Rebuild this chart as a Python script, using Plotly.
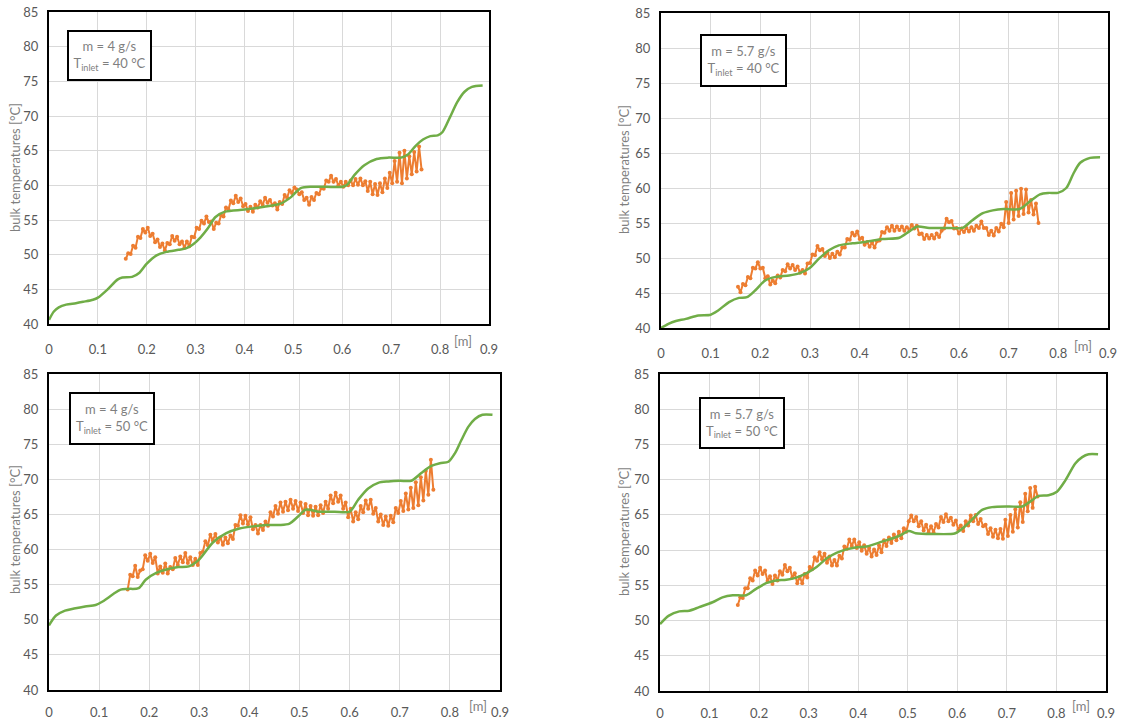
import plotly.graph_objects as go

# ---------------- data ----------------
X_TICKS = [0, 0.1, 0.2, 0.3, 0.4, 0.5, 0.6, 0.7, 0.8, 0.9]
X_TICK_LABELS = ["0", "0.1", "0.2", "0.3", "0.4", "0.5", "0.6", "0.7", "0.8", "0.9"]
Y_TICKS = [40, 45, 50, 55, 60, 65, 70, 75, 80, 85]
Y_TICK_LABELS = ["40", "45", "50", "55", "60", "65", "70", "75", "80", "85"]

panel_labels = [
    "m = 4 g/s<br>T<sub>inlet</sub> = 40 °C",
    "m = 5.7 g/s<br>T<sub>inlet</sub> = 40 °C",
    "m = 4 g/s<br>T<sub>inlet</sub> = 50 °C",
    "m = 5.7 g/s<br>T<sub>inlet</sub> = 50 °C",
]

# simulated bulk temperature (green)
sim1_x = [0, 0.01, 0.02, 0.035, 0.055, 0.07, 0.09, 0.10, 0.12, 0.14, 0.15, 0.17, 0.185, 0.20, 0.22, 0.24,
          0.265, 0.28, 0.295, 0.31, 0.325, 0.34, 0.36, 0.40, 0.44, 0.475, 0.495, 0.515, 0.54, 0.60, 0.61,
          0.625, 0.645, 0.67, 0.695, 0.72, 0.735, 0.75, 0.765, 0.78, 0.795, 0.805, 0.82, 0.835, 0.85, 0.865, 0.887]
sim1_y = [40.6, 41.8, 42.4, 42.8, 43.0, 43.2, 43.5, 43.8, 45.0, 46.4, 46.7, 46.8, 47.4, 48.7, 49.9, 50.4,
          50.7, 50.9, 51.5, 52.5, 53.8, 55.4, 56.2, 56.5, 56.9, 57.4, 58.3, 59.6, 59.8, 59.8, 60.1,
          61.5, 62.9, 63.8, 64.0, 64.0, 64.5, 65.7, 66.6, 67.1, 67.2, 67.7, 69.8, 72.0, 73.5, 74.2, 74.4]

sim2_x = [0, 0.015, 0.03, 0.05, 0.075, 0.1, 0.115, 0.137, 0.157, 0.173, 0.19, 0.21, 0.231, 0.258, 0.278,
          0.298, 0.318, 0.338, 0.358, 0.385, 0.412, 0.446, 0.48, 0.5, 0.516, 0.54, 0.58, 0.607, 0.627,
          0.648, 0.668, 0.69, 0.722, 0.743, 0.763, 0.78, 0.799, 0.816, 0.83, 0.844, 0.864, 0.884]
sim2_y = [40.0, 40.6, 41.0, 41.3, 41.8, 41.9, 42.5, 43.7, 44.3, 44.4, 45.4, 46.8, 47.3, 47.5, 47.8,
          48.5, 49.9, 51.1, 51.8, 52.1, 52.3, 52.7, 52.9, 53.8, 54.5, 54.3, 54.3, 54.3, 55.4,
          56.4, 56.8, 57.0, 57.0, 58.1, 59.1, 59.3, 59.3, 60.0, 62.0, 63.6, 64.3, 64.4]

sim3_x = [0, 0.014, 0.032, 0.05, 0.072, 0.093, 0.107, 0.129, 0.143, 0.157, 0.179, 0.193, 0.215, 0.236,
          0.258, 0.279, 0.3, 0.327, 0.353, 0.38, 0.407, 0.433, 0.46, 0.48, 0.497, 0.513, 0.537, 0.57,
          0.6, 0.617, 0.637, 0.657, 0.677, 0.7, 0.723, 0.743, 0.763, 0.78, 0.797, 0.81, 0.823, 0.837,
          0.85, 0.865, 0.885]
sim3_y = [49.2, 50.6, 51.3, 51.6, 51.9, 52.1, 52.6, 53.7, 54.3, 54.4, 54.5, 55.7, 56.7, 57.2,
          57.5, 57.6, 58.6, 61.0, 62.3, 63.0, 63.3, 63.5, 63.5, 63.7, 64.7, 65.7, 65.4, 65.4,
          65.4, 67.1, 68.7, 69.5, 69.7, 69.8, 69.8, 70.9, 71.9, 72.3, 72.5, 73.7, 75.6, 77.5,
          78.6, 79.2, 79.2]

sim4_x = [0, 0.018, 0.039, 0.059, 0.079, 0.106, 0.126, 0.147, 0.174, 0.194, 0.214, 0.234, 0.255, 0.275,
          0.295, 0.316, 0.336, 0.356, 0.376, 0.397, 0.417, 0.448, 0.482, 0.502, 0.516, 0.549, 0.596,
          0.616, 0.636, 0.65, 0.67, 0.704, 0.731, 0.751, 0.764, 0.784, 0.801, 0.818, 0.838, 0.852,
          0.865, 0.884]
sim4_y = [49.5, 50.7, 51.3, 51.4, 51.9, 52.6, 53.3, 53.6, 53.6, 54.5, 55.3, 55.7, 55.8, 56.1,
          56.7, 57.6, 58.8, 59.6, 60.1, 60.4, 60.5, 61.2, 62.0, 62.7, 62.4, 62.3, 62.4,
          63.4, 64.8, 65.7, 66.1, 66.2, 66.2, 67.1, 67.7, 67.8, 68.3, 69.9, 72.3, 73.2,
          73.6, 73.6]

# measured bulk temperature (orange), equally spaced sensor readings
meas1_x0, meas1_dx = 0.157, 0.005
meas1_y = [49.4, 50.2, 50.1, 51.3, 51.0, 52.6, 52.4, 53.7, 53.2, 53.9,
           52.7, 53.0, 51.8, 52.2, 51.1, 51.6, 50.6, 51.7, 51.5, 52.7,
           52.0, 52.6, 51.5, 51.9, 51.0, 51.9, 51.2, 52.6, 52.5, 53.9,
           53.7, 54.9, 54.5, 55.5, 54.7, 54.8, 53.7, 54.6, 54.5, 55.7,
           55.5, 56.8, 56.5, 57.8, 57.4, 58.5, 57.6, 58.1, 57.0, 57.3,
           56.3, 56.9, 56.2, 57.2, 56.8, 57.7, 57.2, 58.2, 57.5, 57.9,
           57.1, 57.4, 56.5, 57.6, 57.3, 58.6, 58.2, 59.3, 58.9, 59.7,
           59.4, 58.7, 59.0, 57.9, 58.2, 57.2, 58.3, 57.9, 58.9, 58.7,
           59.6, 59.5, 60.7, 60.5, 61.4, 60.5, 60.9, 60.0, 60.5, 59.8,
           60.5, 60.0, 60.7, 60.0, 60.9, 60.1, 61.0, 60.0, 60.6, 59.2,
           60.5, 58.7, 60.2, 58.6, 60.3, 59.0, 61.0, 59.6, 61.8, 60.3,
           63.5, 60.5, 64.7, 60.3, 65.0, 61.0, 64.2, 61.6, 64.8, 62.0,
           65.6, 62.3]

meas2_x0, meas2_dx = 0.155, 0.005
meas2_y = [45.9, 45.1, 46.3, 46.1, 47.3, 47.1, 48.6, 48.5, 49.4, 48.5,
           48.6, 47.1, 47.4, 46.2, 46.8, 46.4, 47.5, 47.2, 48.3, 48.1,
           49.1, 48.5, 49.0, 48.3, 48.8, 47.9, 48.3, 47.8, 49.2, 49.3,
           50.5, 50.4, 51.7, 51.1, 51.3, 50.3, 50.8, 50.0, 50.6, 50.1,
           50.9, 50.5, 51.5, 51.5, 52.7, 52.6, 53.6, 53.2, 53.8, 52.7,
           52.9, 51.9, 52.3, 51.6, 52.2, 51.5, 52.4, 52.5, 53.7, 53.6,
           54.4, 53.9, 54.6, 53.9, 54.5, 54.0, 54.5, 53.9, 54.4, 54.0,
           54.7, 54.2, 54.6, 53.4, 53.5, 52.7, 53.3, 52.8, 53.3, 52.8,
           53.5, 53.0, 53.9, 54.2, 55.6, 55.1, 55.3, 54.2, 54.3, 53.5,
           54.2, 53.7, 54.3, 53.8, 54.4, 53.9, 54.6, 54.3, 55.2, 54.3,
           54.3, 53.3, 53.9, 53.2, 54.3, 53.8, 54.9, 54.4, 58.0, 55.0,
           59.3, 55.5, 59.6, 56.0, 59.9, 56.3, 59.8, 56.5, 58.3, 56.2,
           57.8, 55.0]

meas3_x0, meas3_dx = 0.157, 0.005
meas3_y = [54.3, 56.4, 56.2, 57.7, 56.1, 57.0, 57.2, 59.2, 58.4, 59.4,
           58.1, 58.9, 56.6, 57.6, 56.7, 58.0, 56.6, 57.5, 57.2, 58.8,
           57.8, 59.0, 58.2, 59.5, 58.1, 58.9, 57.8, 58.7, 57.8, 59.5,
           59.7, 61.2, 60.6, 62.1, 61.3, 62.2, 61.0, 61.7, 60.7, 61.7,
           60.9, 62.0, 61.5, 63.5, 63.4, 64.9, 63.7, 64.8, 63.6, 64.6,
           62.9, 63.5, 62.3, 63.5, 62.8, 64.0, 63.4, 65.3, 64.7, 66.2,
           65.1, 66.7, 65.4, 66.8, 65.6, 67.1, 65.8, 66.9, 65.5, 66.7,
           65.2, 66.5, 64.9, 66.2, 64.8, 66.1, 64.9, 66.3, 65.2, 66.8,
           65.8, 67.7, 66.6, 68.1, 66.8, 67.7, 65.8, 66.7, 64.6, 65.8,
           64.0, 65.3, 64.3, 66.2, 65.3, 67.0, 65.8, 67.1, 65.1, 65.9,
           64.0, 65.0, 63.5, 64.7, 63.4, 64.8, 63.9, 65.9, 65.2, 66.9,
           65.5, 68.0, 65.7, 68.8, 65.9, 69.6, 66.3, 70.3, 67.0, 71.2,
           67.8, 72.8, 68.5]

meas4_x0, meas4_dx = 0.157, 0.005
meas4_y = [52.2, 53.3, 53.2, 54.6, 54.6, 56.0, 55.7, 57.1, 56.4, 57.5,
           56.6, 57.1, 55.6, 56.3, 55.2, 56.4, 55.7, 57.0, 56.5, 57.9,
           57.0, 57.5, 56.1, 56.7, 55.3, 56.2, 55.3, 56.6, 56.1, 57.6,
           57.3, 59.0, 58.5, 59.7, 58.7, 59.5, 58.2, 59.1, 57.8, 58.6,
           57.8, 59.2, 58.8, 60.5, 60.2, 61.5, 60.6, 61.5, 60.3, 61.1,
           59.9, 60.7, 59.5, 60.3, 59.1, 60.1, 59.3, 60.7, 59.7, 61.4,
           60.6, 61.8, 61.0, 62.2, 61.4, 62.6, 61.7, 63.1, 62.6, 64.1,
           64.9, 64.1, 64.7, 63.4, 64.1, 62.8, 63.6, 62.5, 63.4, 62.5,
           63.7, 63.2, 64.7, 64.0, 65.1, 64.1, 64.6, 63.6, 64.2, 62.9,
           63.5, 62.7, 64.1, 63.5, 64.9, 64.1, 65.0, 63.7, 64.4, 63.4,
           63.6, 62.3, 63.1, 61.9, 62.9, 61.7, 63.0, 61.6, 64.3, 62.0,
           65.0, 62.6, 65.8, 63.2, 66.8, 64.0, 68.0, 65.5, 68.8, 66.0,
           69.0, 67.6]

sim_x = [sim1_x, sim2_x, sim3_x, sim4_x]
sim_y = [sim1_y, sim2_y, sim3_y, sim4_y]
meas_x0 = [meas1_x0, meas2_x0, meas3_x0, meas4_x0]
meas_dx = [meas1_dx, meas2_dx, meas3_dx, meas4_dx]
meas_y = [meas1_y, meas2_y, meas3_y, meas4_y]

# ---------------- layout helpers ----------------
W, H = 1124, 722


def fx(p):
    return p / W


def fy(p):
    return 1 - p / H


# plot-area boxes in pixels (left, top, right, bottom)
boxes = [(49, 12, 489, 324), (661, 13, 1108, 328), (49, 374, 500, 690), (660, 374, 1106, 691)]
label_centers = [(109.5, 55.5), (743.5, 60.5), (112, 418.5), (742, 423)]
label_sizes = [(79, 45), (81, 47), (80, 47), (80, 46)]
ytitle_pos = [(15, 168), (624, 170), (15, 530), (624, 532)]
unit_pos = [(463, 341), (1083, 346), (478, 706), (1081, 706)]
xlabel_standoff = [12, 12, 9, 9]

ORANGE = "#ED7D31"
GREEN = "#70AD47"
TICK_COLOR = "#595959"
TEXT_GRAY = "#7F7F7F"
FONT = "Lato"

fig = go.Figure()
layout = dict(
    width=W, height=H, margin=dict(l=0, r=0, t=0, b=0, pad=0), autosize=False,
    paper_bgcolor="white", plot_bgcolor="white", showlegend=False,
    font=dict(family=FONT, color=TICK_COLOR),
)
annotations = []

for i in range(4):
    s = "" if i == 0 else str(i + 1)
    l, t, r, b = boxes[i]
    common = dict(showgrid=True, gridcolor="#D9D9D9", gridwidth=1, zeroline=False,
                  showline=True, linecolor="black", linewidth=2, mirror=True,
                  ticks="", automargin=False,
                  tickfont=dict(family=FONT, size=13, color=TICK_COLOR))
    layout["xaxis" + s] = dict(common, domain=[fx(l), fx(r)], range=[0, 0.9],
                               tickvals=X_TICKS, ticktext=X_TICK_LABELS,
                               anchor="y" + s, ticklabelstandoff=xlabel_standoff[i])
    layout["yaxis" + s] = dict(common, domain=[fy(b), fy(t)], range=[40, 85],
                               tickvals=Y_TICKS, ticktext=Y_TICK_LABELS,
                               anchor="x" + s, ticklabelstandoff=6)

    fig.add_trace(go.Scatter(
        x0=meas_x0[i], dx=meas_dx[i], y=meas_y[i], mode="lines+markers",
        line=dict(color=ORANGE, width=2), marker=dict(color=ORANGE, size=4),
        xaxis="x" + s, yaxis="y" + s, name="measured"))
    fig.add_trace(go.Scatter(
        x=sim_x[i], y=sim_y[i], mode="lines",
        line=dict(color=GREEN, width=2.5, shape="spline", smoothing=0.8),
        xaxis="x" + s, yaxis="y" + s, name="simulated"))

    cx, cy = label_centers[i]
    w, h = label_sizes[i]
    annotations.append(dict(
        text=panel_labels[i], xref="paper", yref="paper", x=fx(cx), y=fy(cy),
        xanchor="center", yanchor="middle", showarrow=False, align="center",
        width=w, height=h, bgcolor="white", bordercolor="black", borderwidth=2,
        borderpad=1, font=dict(family=FONT, size=13, color=TEXT_GRAY)))
    tx, ty = ytitle_pos[i]
    annotations.append(dict(
        text="bulk temperatures [°C]", xref="paper", yref="paper", x=fx(tx), y=fy(ty),
        xanchor="center", yanchor="middle", textangle=-90, showarrow=False,
        font=dict(family=FONT, size=13, color=TEXT_GRAY)))
    ux, uy = unit_pos[i]
    annotations.append(dict(
        text="[m]", xref="paper", yref="paper", x=fx(ux), y=fy(uy),
        xanchor="center", yanchor="middle", showarrow=False,
        font=dict(family=FONT, size=13, color=TEXT_GRAY)))

layout["annotations"] = annotations
fig.update_layout(**layout)
fig.write_html("out.html", config={"displayModeBar": False},
               post_script="document.body.style.margin='0px';document.body.style.overflow='hidden';")
